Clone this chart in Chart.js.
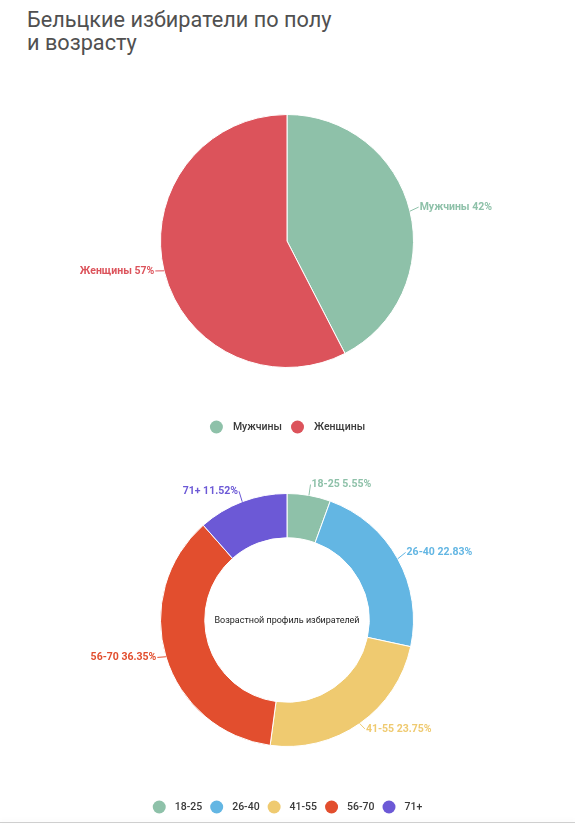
<!DOCTYPE html>
<html>
<head>
<meta charset="utf-8">
<script src="https://cdn.jsdelivr.net/npm/chart.js@4"></script>
<style>
  html, body { margin: 0; padding: 0; background: #fff; }
  body { width: 575px; height: 826px; position: relative; overflow: hidden; font-family: Roboto, "Noto Sans", sans-serif; }
  #title { position: absolute; left: 27px; top: 8px; margin: 0; font-size: 21.7px; font-weight: normal; line-height: 23px; color: #505050; }
  #genderBox { position: absolute; left: 0; top: 0; width: 575px; height: 460px; }
  #ageBox { position: absolute; left: 0; top: 460px; width: 575px; height: 366px; }
  #rule { position: absolute; left: 0; top: 822px; width: 575px; height: 1px; background: #cfcfcf; box-shadow: 0 -2px 4px rgba(0,0,0,0.06); }
</style>
</head>
<body>
<h1 id="title">Бельцкие избиратели по полу<br>и возрасту</h1>
<div id="genderBox"><canvas id="gender" width="575" height="460"></canvas></div>
<div id="ageBox"><canvas id="age" width="575" height="366"></canvas></div>
<div id="rule"></div>
<script>
// gender split, percent
const genderLabels = ["Мужчины", "Женщины"]
const genderValues = [42, 57]
const genderColors = ["#8ec1a9", "#dc535b"]

// age profile, percent
const ageLabels = ["18-25", "26-40", "41-55", "56-70", "71+"]
const ageValues = [5.55, 22.83, 23.75, 36.35, 11.52]
const ageColors = ["#8ec1a9", "#63b6e3", "#efca70", "#e24e2e", "#6c59d6"]

const ageCenterText = "Возрастной профиль избирателей"

// labels outside the slices with a short leader line
const outsideLabels = {
  id: "outsideLabels",
  afterDatasetsDraw(chart) {
    const ctx = chart.ctx
    const meta = chart.getDatasetMeta(0)
    const ds = chart.data.datasets[0]
    ctx.save()
    ctx.font = "bold 10.5px Roboto, sans-serif"
    ctx.textBaseline = "middle"
    meta.data.forEach((arc, i) => {
      const p = arc.getProps(["x", "y", "startAngle", "endAngle", "outerRadius"], true)
      const mid = (p.startAngle + p.endAngle) / 2
      const cos = Math.cos(mid), sin = Math.sin(mid)
      const r0 = p.outerRadius
      const r1 = p.outerRadius + 9
      const x0 = p.x + cos * r0, y0 = p.y + sin * r0
      const x1 = p.x + cos * r1, y1 = p.y + sin * r1
      const right = cos >= 0
      const color = ds.backgroundColor[i]
      ctx.strokeStyle = color
      ctx.lineWidth = 1
      ctx.beginPath()
      ctx.moveTo(x0, y0)
      ctx.lineTo(x1, y1 - 2)
      ctx.stroke()
      ctx.fillStyle = color
      ctx.textAlign = right ? "left" : "right"
      const txt = chart.data.labels[i] + " " + ds.data[i] + "%"
      ctx.fillText(txt, x1 + (right ? 1 : -1), y1 - 2)
    })
    ctx.restore()
  }
}

// dot legend drawn under each chart
const dotLegend = {
  id: "dotLegend",
  afterDraw(chart, args, opts) {
    const ctx = chart.ctx
    const labels = chart.data.labels
    const colors = chart.data.datasets[0].backgroundColor
    ctx.save()
    ctx.font = "500 10.5px Roboto, sans-serif"
    const widths = labels.map(l => ctx.measureText(l).width)
    const item = w => opts.radius * 2 + opts.gap + w
    const total = widths.reduce((s, w) => s + item(w), 0) + opts.spacing * (labels.length - 1)
    let x = chart.width / 2 - total / 2
    ctx.textBaseline = "middle"
    ctx.textAlign = "left"
    labels.forEach((l, i) => {
      ctx.fillStyle = colors[i]
      ctx.beginPath()
      ctx.arc(x + opts.radius, opts.y, opts.radius, 0, Math.PI * 2)
      ctx.fill()
      ctx.fillStyle = "#3a3a3a"
      ctx.fillText(l, x + opts.radius * 2 + opts.gap, opts.y + 0.5)
      x += item(widths[i]) + opts.spacing
    })
    ctx.restore()
  }
}

const centerText = {
  id: "centerText",
  afterDraw(chart, args, opts) {
    if (!opts.text) return
    const arc = chart.getDatasetMeta(0).data[0]
    const ctx = chart.ctx
    ctx.save()
    ctx.font = "9px Roboto, sans-serif"
    ctx.fillStyle = "#222"
    ctx.textAlign = "center"
    ctx.textBaseline = "middle"
    ctx.fillText(opts.text, arc.x, arc.y + 1)
    ctx.restore()
  }
}

new Chart(document.getElementById("gender"), {
  type: "pie",
  data: {
    labels: genderLabels,
    datasets: [{
      data: genderValues,
      backgroundColor: genderColors,
      borderColor: "#fff",
      borderWidth: 1
    }]
  },
  options: {
    responsive: false,
    animation: false,
    layout: { padding: { top: 114, bottom: 92, left: 160, right: 161 } },
    plugins: {
      legend: { display: false },
      tooltip: { enabled: false },
      dotLegend: { y: 427, radius: 6.5, gap: 10, spacing: 9 }
    }
  },
  plugins: [outsideLabels, dotLegend]
})

new Chart(document.getElementById("age"), {
  type: "doughnut",
  data: {
    labels: ageLabels,
    datasets: [{
      data: ageValues,
      backgroundColor: ageColors,
      borderColor: "#fff",
      borderWidth: 1
    }]
  },
  options: {
    responsive: false,
    animation: false,
    cutout: "65%",
    layout: { padding: { top: 33, bottom: 79, left: 160, right: 161 } },
    plugins: {
      legend: { display: false },
      tooltip: { enabled: false },
      dotLegend: { y: 347, radius: 6.5, gap: 9, spacing: 8 },
      centerText: { text: ageCenterText }
    }
  },
  plugins: [outsideLabels, dotLegend, centerText]
})
</script>
</body>
</html>
